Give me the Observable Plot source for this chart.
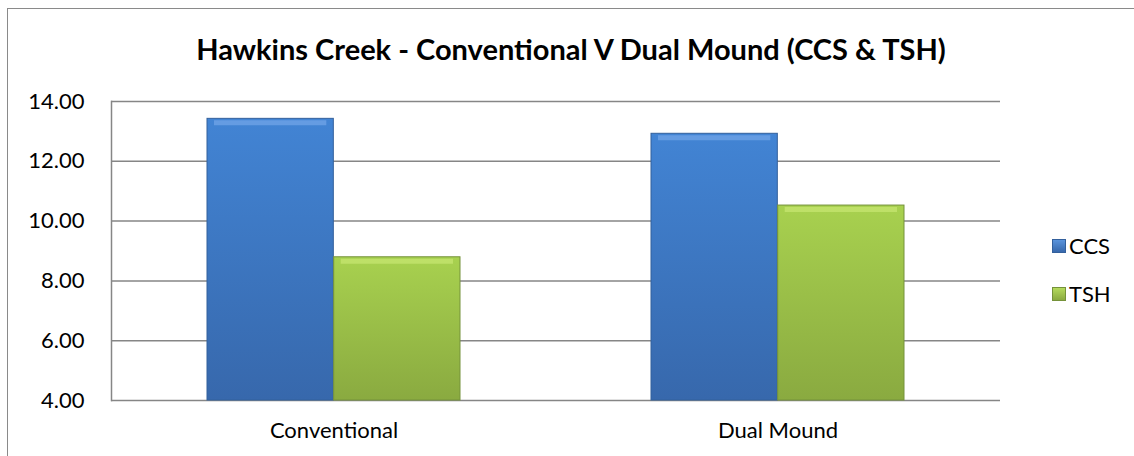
<!DOCTYPE html>
<html>
<head>
<meta charset="utf-8">
<script src="https://cdn.jsdelivr.net/npm/d3@7"></script>
<script src="https://cdn.jsdelivr.net/npm/@observablehq/plot@0.6"></script>
<style>
  html, body { margin: 0; padding: 0; background: #fff; }
  #wrap { position: relative; width: 1134px; height: 456px; overflow: hidden; font-family: Lato, "Open Sans", sans-serif; }
  #border { position: absolute; left: 7px; top: 8px; width: 1200px; height: 600px; border: 1.5px solid #8a8a8a; box-sizing: border-box; }
  #title { position: absolute; left: 0; top: 32px; width: 1142px; text-align: center; font-weight: bold; font-size: 29px; line-height: 34px; color: #000; }
  #chart { position: absolute; left: 0; top: 0; }
  .leg { position: absolute; left: 1052px; font-size: 22px; color: #000; display: flex; align-items: center; }
  .sw { width: 14px; height: 14px; margin-right: 3px; box-sizing: border-box; }
</style>
</head>
<body>
<svg width="0" height="0" style="position:absolute">
  <defs>
    <linearGradient id="gBlue" x1="0" y1="0" x2="0" y2="1">
      <stop offset="0" stop-color="#4284d4"/>
      <stop offset="1" stop-color="#3768ac"/>
    </linearGradient>
    <linearGradient id="gGreen" x1="0" y1="0" x2="0" y2="1">
      <stop offset="0" stop-color="#a8d14f"/>
      <stop offset="1" stop-color="#8aaa40"/>
    </linearGradient>
  </defs>
</svg>
<div id="wrap">
  <div id="border"></div>
  <div id="title"></div>
  <div id="chart"></div>
</div>
<script>
const title = "Hawkins Creek - Conventional V Dual Mound (CCS & TSH)";
const categories = ["Conventional", "Dual Mound"];
const series = ["CCS", "TSH"];
const ccsValues = [13.42, 12.92];
const tshValues = [8.79, 10.52];
const yTicks = [4, 6, 8, 10, 12, 14];

const fills = {CCS: "url(#gBlue)", TSH: "url(#gGreen)"};
const strokes = {CCS: "#33609c", TSH: "#75923a"};
const bevels = {CCS: "#6ea3e6", TSH: "#c4e46e"};
const swatch = {CCS: "linear-gradient(#5a94dc,#3768ac)", TSH: "linear-gradient(#b4da5c,#8aaa40)"};

const ccs = categories.map((c, i) => ({category: c, value: ccsValues[i]}));
const tsh = categories.map((c, i) => ({category: c, value: tshValues[i]}));

const W = 1134, H = 456;
const mL = 111, mR = 134, mT = 101, mB = 56;
const pInner = 0.43, pOuter = 0.215;
const step = (W - mL - mR) / (categories.length - pInner + 2 * pOuter);
const half = step * (1 - pInner) / 2;

document.getElementById("title").textContent = title;

const plot = Plot.plot({
  width: W, height: H,
  marginLeft: mL, marginRight: mR, marginTop: mT, marginBottom: mB,
  style: {fontFamily: "Lato, 'Open Sans', sans-serif", fontSize: "22px", color: "#000", background: "transparent"},
  x: {domain: categories, paddingInner: pInner, paddingOuter: pOuter, label: null, tickSize: 0, tickPadding: 22},
  y: {domain: [4, 14], ticks: yTicks, tickFormat: d3.format(".2f"), label: null, tickSize: 0, tickPadding: 27},
  marks: [
    Plot.ruleY(yTicks, {stroke: "#868686", strokeWidth: 1.5}),
    Plot.frame({anchor: "left", stroke: "#868686", strokeWidth: 1.5}),
    Plot.barY(ccs, {x: "category", y1: 4, y2: "value", insetRight: half, fill: fills.CCS, stroke: strokes.CCS, strokeWidth: 1}),
    Plot.barY(tsh, {x: "category", y1: 4, y2: "value", insetLeft: half, fill: fills.TSH, stroke: strokes.TSH, strokeWidth: 1}),
    Plot.tickY(ccs, {x: "category", y: "value", insetRight: half + 7, insetLeft: 7, dy: 4, stroke: bevels.CCS, strokeWidth: 5, strokeOpacity: 0.8}),
    Plot.tickY(tsh, {x: "category", y: "value", insetLeft: half + 7, insetRight: 7, dy: 4, stroke: bevels.TSH, strokeWidth: 5, strokeOpacity: 0.8})
  ]
});
document.getElementById("chart").appendChild(plot);

const wrap = document.getElementById("wrap");
const legTops = [232, 280];
series.forEach((s, i) => {
  const d = document.createElement("div");
  d.className = "leg";
  d.style.top = legTops[i] + "px";
  const sw = document.createElement("div");
  sw.className = "sw";
  sw.style.background = swatch[s];
  sw.style.border = "1px solid " + strokes[s];
  const t = document.createElement("span");
  t.textContent = s;
  d.appendChild(sw); d.appendChild(t);
  wrap.appendChild(d);
});
</script>
</body>
</html>
